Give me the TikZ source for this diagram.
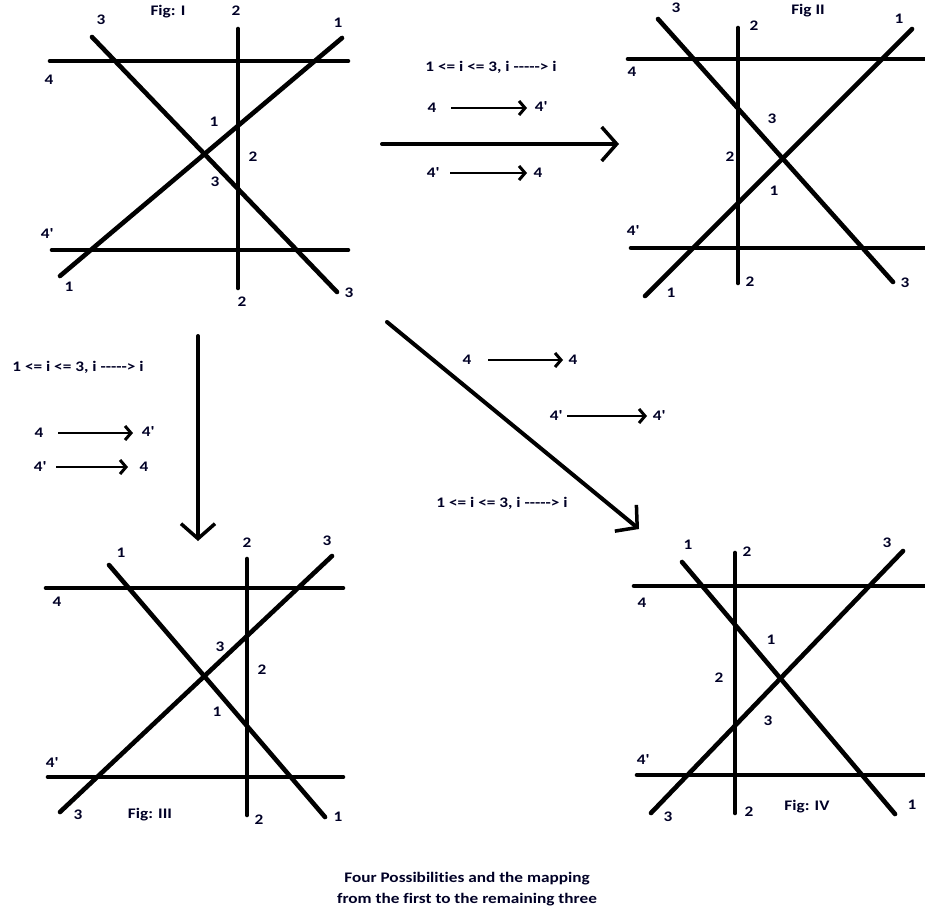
\documentclass[tikz,border=0pt]{standalone}
\usepackage{fontspec}
\setmainfont{Carlito}[Ligatures={TeXOff,NoCommon},FakeStretch=1.18]
\usetikzlibrary{arrows.meta}
\newcommand{\pr}{\textquotesingle}
\begin{document}
\begin{tikzpicture}[x=1pt,y=-1pt,
  figline/.style={line width=4.6pt,line cap=round},
  lbl/.style={font=\bfseries\fontsize{14.6}{17}\selectfont,text=black!85!blue,inner sep=0pt},
  bigarrow/.style={line width=4pt,line cap=round,-{Straight Barb[length=15pt,width=34pt,line width=3.5pt]}},
  smallarrow/.style={line width=2.8pt,-{Straight Barb[length=6pt,width=14pt,line width=3pt]}}]
\useasboundingbox[fill=white] (0,0) rectangle (925,915);

% ---------- Fig I ----------
\draw[figline] (50,61) -- (348,61);
\draw[figline] (52,250) -- (348,250);
\draw[figline] (238,29) -- (238,288);
\draw[figline] (60,276) -- (342,38);
\draw[figline] (92,37) -- (337,292);
\node[lbl] (f1t) at (168,12) {Fig: I};
\node[lbl] (f1a) at (236,11) {2};
\node[lbl] (f1b) at (338,23) {1};
\node[lbl] (f1c) at (101,20) {3};
\node[lbl] (f1d) at (49,80) {4};
\node[lbl] (f1e) at (214,122) {1};
\node[lbl] (f1f) at (253,157) {2};
\node[lbl] (f1g) at (215,182) {3};
\node[lbl] (f1h) at (47,234) {4\pr};
\node[lbl] (f1i) at (69,287) {1};
\node[lbl] (f1j) at (242,302) {2};
\node[lbl] (f1k) at (349,293) {3};

% ---------- Fig II ----------
\draw[figline] (628,59) -- (930,59);
\draw[figline] (631,248) -- (930,248);
\draw[figline] (738,28) -- (738,283);
\draw[figline] (645,296) -- (912,29);
\draw[figline] (658,19) -- (893,282);
\node[lbl] (f2t) at (808,11) {Fig II};
\node[lbl] (f2a) at (676,8) {3};
\node[lbl] (f2b) at (754,26) {2};
\node[lbl] (f2c) at (899,19) {1};
\node[lbl] (f2d) at (632,72) {4};
\node[lbl] (f2e) at (772,119) {3};
\node[lbl] (f2f) at (730,157) {2};
\node[lbl] (f2g) at (774,191) {1};
\node[lbl] (f2h) at (633,231) {4\pr};
\node[lbl] (f2i) at (750,282) {2};
\node[lbl] (f2j) at (671,293) {1};
\node[lbl] (f2k) at (905,283) {3};

% ---------- Fig III ----------
\draw[figline] (46,588) -- (343,588);
\draw[figline] (48,777) -- (343,777);
\draw[figline] (247,559) -- (247,815);
\draw[figline] (109,565) -- (325,817);
\draw[figline] (60,812) -- (332,556);
\node[lbl] (f3a) at (121,553) {1};
\node[lbl] (f3b) at (247,543) {2};
\node[lbl] (f3c) at (327,541) {3};
\node[lbl] (f3d) at (57,602) {4};
\node[lbl] (f3e) at (220,647) {3};
\node[lbl] (f3f) at (262,670) {2};
\node[lbl] (f3g) at (217,712) {1};
\node[lbl] (f3h) at (52,763) {4\pr};
\node[lbl] (f3i) at (78,815) {3};
\node[lbl] (f3t) at (150,815) {Fig: III};
\node[lbl] (f3j) at (259,820) {2};
\node[lbl] (f3k) at (338,817) {1};

% ---------- Fig IV ----------
\draw[figline] (634,586) -- (930,586);
\draw[figline] (637,775) -- (930,775);
\draw[figline] (735,553) -- (735,813);
\draw[figline] (682,562) -- (895,814);
\draw[figline] (651,813) -- (903,551);
\node[lbl] (f4a) at (688,545) {1};
\node[lbl] (f4b) at (747,552) {2};
\node[lbl] (f4c) at (887,543) {3};
\node[lbl] (f4d) at (642,603) {4};
\node[lbl] (f4e) at (771,640) {1};
\node[lbl] (f4f) at (719,678) {2};
\node[lbl] (f4g) at (768,721) {3};
\node[lbl] (f4h) at (643,760) {4\pr};
\node[lbl] (f4i) at (668,817) {3};
\node[lbl] (f4j) at (749,812) {2};
\node[lbl] (f4t) at (807,807) {Fig: IV};
\node[lbl] (f4k) at (912,805) {1};

% ---------- big arrows ----------
\coordinate (a1s) at (382,144); \coordinate (a1e) at (619,144);
\draw[bigarrow] (a1s) -- (a1e);
\coordinate (a2s) at (198,336); \coordinate (a2e) at (198,541);
\draw[bigarrow] (a2s) -- (a2e);
\coordinate (a3s) at (387,322); \coordinate (a3e) at (639,529);
\draw[bigarrow] (a3s) -- (a3e);

% ---------- mapping I -> II ----------
\node[lbl] (m1r) at (491,67) {1 <= i <= 3, i -----> i};
\node[lbl] (m1a) at (432,108) {4};
\node[lbl] (m1b) at (541,107) {4\pr};
\draw[smallarrow] (451,108) -- (527,108);
\node[lbl] (m1c) at (433,173) {4\pr};
\node[lbl] (m1d) at (538,173) {4};
\draw[smallarrow] (450,173) -- (527,173);

% ---------- mapping I -> III ----------
\node[lbl] (m2r) at (78,367) {1 <= i <= 3, i -----> i};
\node[lbl] (m2a) at (39,433) {4};
\node[lbl] (m2b) at (148,432) {4\pr};
\draw[smallarrow] (58,433) -- (133,433);
\node[lbl] (m2c) at (40,467) {4\pr};
\node[lbl] (m2d) at (144,467) {4};
\draw[smallarrow] (56,467) -- (128,467);

% ---------- mapping I -> IV ----------
\node[lbl] (m3a) at (467,360) {4};
\node[lbl] (m3b) at (573,360) {4};
\draw[smallarrow] (488,360) -- (563,360);
\node[lbl] (m3c) at (556,416) {4\pr};
\node[lbl] (m3d) at (659,416) {4\pr};
\draw[smallarrow] (567,416) -- (647,416);
\node[lbl] (m3r) at (502,503) {1 <= i <= 3, i -----> i};

% ---------- caption ----------
\node[lbl,anchor=base] (cap1) at (467,882) {Four Possibilities and the mapping};
\node[lbl,anchor=base] (cap2) at (467,903) {from the first to the remaining three};
\end{tikzpicture}
\end{document}
